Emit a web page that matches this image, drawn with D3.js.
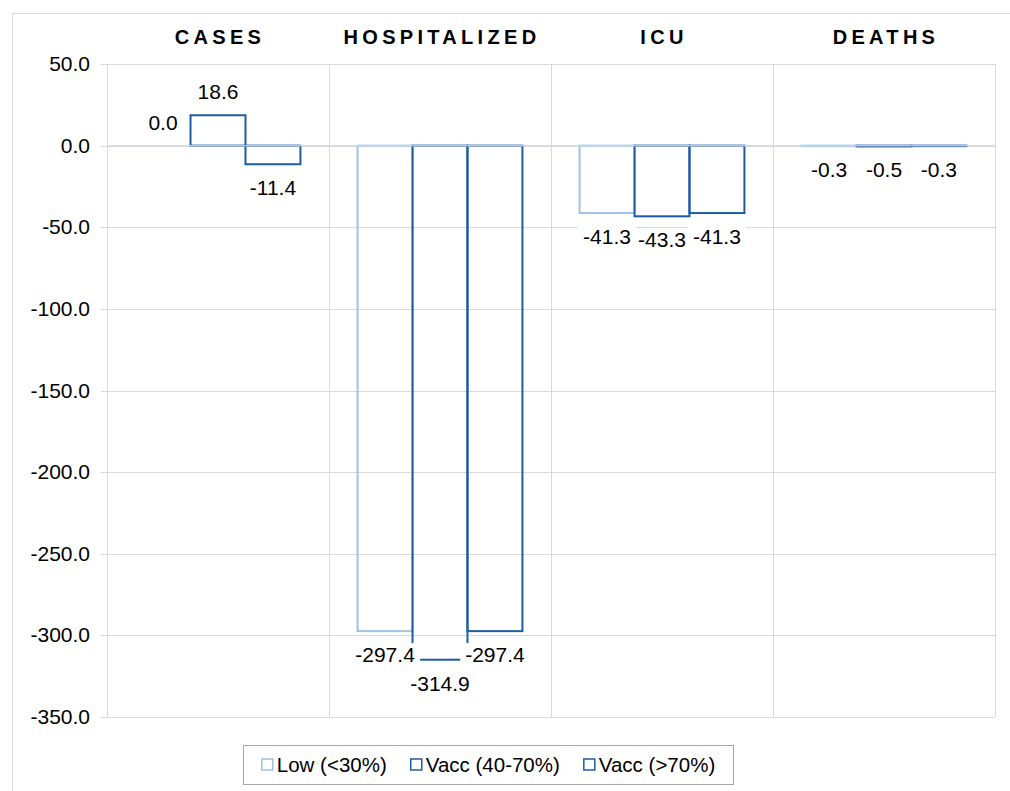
<!DOCTYPE html>
<html>
<head>
<meta charset="utf-8">
<script src="https://cdn.jsdelivr.net/npm/d3@7"></script>
<style>
  body { margin: 0; background: #fff; }
  svg { display: block; font-family: "Liberation Sans", Arial, sans-serif; }
</style>
</head>
<body>
<svg width="1010" height="791"></svg>
<script>
var categories = ["CASES", "HOSPITALIZED", "ICU", "DEATHS"];
var seriesNames = ["Low (<30%)", "Vacc (40-70%)", "Vacc (>70%)"];
var lowValues = [0.0, -297.4, -41.3, -0.3];
var vacc4070Values = [18.6, -314.9, -43.3, -0.5];
var vacc70Values = [-11.4, -297.4, -41.3, -0.3];
var yTicks = [50, 0, -50, -100, -150, -200, -250, -300, -350];

var colors = ["#9dc3e6", "#1c5ca3", "#1c5ca3"];
var allValues = [lowValues, vacc4070Values, vacc70Values];

var svg = d3.select("svg");
var plotLeft = 107, plotRight = 995, plotTop = 64, plotBottom = 717;
var fmt = v => v.toFixed(1);

// outer chart border
svg.append("rect")
  .attr("x", 12.5).attr("y", 13.5)
  .attr("width", 1020).attr("height", 800)
  .attr("fill", "none").attr("stroke", "#d9d9d9");

var y = d3.scaleLinear().domain([-350, 50]).range([plotBottom, plotTop]);
var x0 = d3.scaleBand().domain(categories).range([plotLeft, plotRight]);
var x1 = d3.scaleBand().domain(seriesNames).range([0, x0.bandwidth()]).paddingOuter(0.52);

// horizontal gridlines + ticks
svg.append("g").selectAll("line").data(yTicks).join("line")
  .attr("x1", plotLeft - 6).attr("x2", plotRight)
  .attr("y1", d => Math.round(y(d)) + 0.5).attr("y2", d => Math.round(y(d)) + 0.5)
  .attr("stroke", "#d9d9d9");

// vertical gridlines at category boundaries
var bounds = categories.map(c => x0(c)).concat([plotRight]);
svg.append("g").selectAll("line").data(bounds).join("line")
  .attr("x1", d => Math.round(d) + 0.5).attr("x2", d => Math.round(d) + 0.5)
  .attr("y1", plotTop).attr("y2", plotBottom)
  .attr("stroke", "#d9d9d9");

// tick labels
svg.append("g").selectAll("text").data(yTicks).join("text")
  .attr("x", 90).attr("y", d => y(d) + 7)
  .attr("text-anchor", "end")
  .attr("font-size", 21).attr("fill", "#000")
  .text(d => fmt(d));

// category headers
svg.append("g").selectAll("text").data(categories).join("text")
  .attr("x", d => x0(d) + x0.bandwidth() / 2 + 2)
  .attr("y", 44)
  .attr("text-anchor", "middle")
  .attr("font-size", 20).attr("font-weight", "bold")
  .attr("letter-spacing", 4.3)
  .attr("fill", "#000")
  .text(d => d);

// bars
var bars = [];
seriesNames.forEach(function(s, si) {
  categories.forEach(function(c, ci) {
    bars.push({ cat: c, series: s, si: si, v: allValues[si][ci] });
  });
});

svg.append("g").selectAll("rect").data(bars).join("rect")
  .attr("x", d => x0(d.cat) + x1(d.series))
  .attr("width", x1.bandwidth())
  .attr("y", d => y(Math.max(d.v, 0)))
  .attr("height", d => Math.abs(y(d.v) - y(0)))
  .attr("fill", "none")
  .attr("stroke", d => colors[d.si])
  .attr("stroke-width", 2);

// zero axis line on top
svg.append("line")
  .attr("x1", plotLeft).attr("x2", plotRight)
  .attr("y1", y(0)).attr("y2", y(0))
  .attr("stroke", "#d0d8e2").attr("stroke-opacity", 0.85).attr("stroke-width", 1.5);

// value labels: white boxes first, then texts on top
var labX = d => x0(d.cat) + x1(d.series) + x1.bandwidth() / 2;
var labY = d => d.v >= 0 ? y(d.v) - 23 : y(d.v) + 24;
var boxLayer = svg.append("g");
var labTexts = svg.append("g").selectAll("text").data(bars).join("text")
  .attr("x", labX)
  .attr("y", d => labY(d) + 7)
  .attr("text-anchor", "middle")
  .attr("font-size", 21).attr("fill", "#000")
  .text(d => fmt(d.v));
labTexts.each(function(d) {
  var b = this.getBBox();
  boxLayer.append("rect")
    .attr("x", b.x - 5).attr("y", labY(d) - 12)
    .attr("width", b.width + 10).attr("height", 25)
    .attr("fill", "#fff");
});

// legend
var lg = svg.append("g");
lg.append("rect")
  .attr("x", 243.5).attr("y", 745.5)
  .attr("width", 490).attr("height", 39)
  .attr("fill", "#fff").attr("stroke", "#a6a6a6");
var items = lg.selectAll("g").data(seriesNames).join("g");
items.append("rect")
  .attr("width", 11).attr("height", 11)
  .attr("y", 759)
  .attr("fill", "#fff")
  .attr("stroke", (d, i) => colors[i]).attr("stroke-width", 1.5);
items.append("text")
  .attr("x", 15).attr("y", 772)
  .attr("font-size", 20.5).attr("fill", "#000")
  .text(d => d);
var widths = [];
items.each(function() { widths.push(d3.select(this).select("text").node().getComputedTextLength() + 15); });
var gap = 24;
var total = d3.sum(widths) + gap * (widths.length - 1);
var cur = 243.5 + (490 - total) / 2;
items.each(function(d, i) {
  d3.select(this).attr("transform", "translate(" + cur + ",0)");
  cur += widths[i] + gap;
});
</script>
</body>
</html>
